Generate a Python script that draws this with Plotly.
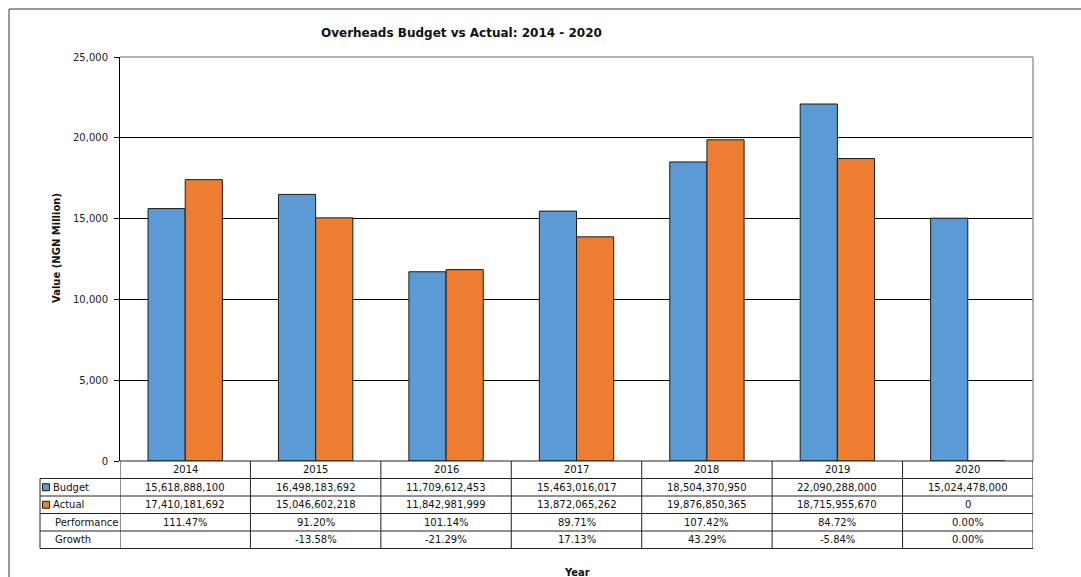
import plotly.graph_objects as go

years = ["2014", "2015", "2016", "2017", "2018", "2019", "2020"]
budget = [15618888100, 16498183692, 11709612453, 15463016017, 18504370950, 22090288000, 15024478000]
actual = [17410181692, 15046602218, 11842981999, 13872065262, 19876850365, 18715955670, 0]
performance = ["111.47%", "91.20%", "101.14%", "89.71%", "107.42%", "84.72%", "0.00%"]
growth = ["", "-13.58%", "-21.29%", "17.13%", "43.29%", "-5.84%", "0.00%"]
row_labels = ["Budget", "Actual", "Performance", "Growth"]

BLUE = "#5B9BD5"
ORANGE = "#ED7D31"
FONT = "DejaVu Sans"

W, H = 1081, 577
L, R, T, B = 120, 1033, 57, 461


def px(x):
    return (x - L) / (R - L)


def py(y):
    return (B - y) / (B - T)


fig = go.Figure()
fig.add_trace(go.Bar(x=years, y=[v / 1e6 for v in budget], name="Budget",
                     marker=dict(color=BLUE, line=dict(color="#1a1a1a", width=1))))
fig.add_trace(go.Bar(x=years, y=[v / 1e6 for v in actual], name="Actual",
                     marker=dict(color=ORANGE, line=dict(color="#1a1a1a", width=1))))
# invisible trace so the inside-tick overlay axis is drawn
fig.add_trace(go.Scatter(x=[years[0]], y=[0], yaxis="y2", mode="markers",
                         marker=dict(opacity=0), hoverinfo="skip", showlegend=False))

shapes = []
annotations = []
LC = "#222222"


def hline(x0, x1, y, color=LC, xref="paper", width=1):
    shapes.append(dict(type="line", xref=xref, yref="paper", x0=x0, x1=x1,
                       y0=py(y), y1=py(y), line=dict(color=color, width=width)))


def vline(x, y0, y1, color=LC, xref="paper", width=1):
    shapes.append(dict(type="line", xref=xref, yref="paper", x0=x, x1=x,
                       y0=py(y0), y1=py(y1), line=dict(color=color, width=width)))


# plot-area top/right border (gray)
hline(px(L), px(R), T, color="#9a9a9a", width=1.5)
vline(px(R), T, B, color="#9a9a9a", width=1.5)

# outer chart frame (top + left visible)
hline(px(9), px(1081), 9, color="#333333")
vline(px(9), 9, 577, color="#333333")

# table geometry
rows = [461, 478.5, 496, 513.5, 531, 548.5]
TL = 40
n = len(years)
shapes.append(dict(type="line", xref="x", yref="paper", x0=-0.5, x1=n - 0.5,
                   y0=py(rows[0]), y1=py(rows[0]), line=dict(color=LC, width=1)))
for y in rows[1:]:
    hline(px(TL), px(R), y)
vline(px(TL), rows[1], rows[-1])
for i in range(n + 1):
    shapes.append(dict(type="line", xref="x", yref="paper", x0=i - 0.5, x1=i - 0.5,
                       y0=py(rows[0]), y1=py(rows[-1]), line=dict(color=LC, width=1)))

# legend keys
for k, col in enumerate([BLUE, ORANGE]):
    yc = (rows[k + 1] + rows[k + 2]) / 2
    shapes.append(dict(type="rect", xref="paper", yref="paper",
                       x0=px(42.5), x1=px(49.5), y0=py(yc + 3.5), y1=py(yc - 3.5),
                       fillcolor=col, line=dict(color="#1a1a1a", width=1)))

TF = dict(family=FONT, size=10, color="#111111")

for i, yr in enumerate(years):
    annotations.append(dict(x=i, y=py((rows[0] + rows[1]) / 2), xref="x", yref="paper",
                            text=yr, showarrow=False, font=TF, xanchor="center", yanchor="middle"))

table_rows = [
    [f"{v:,}" for v in budget],
    [f"{v:,}" for v in actual],
    performance,
    growth,
]
for r, vals in enumerate(table_rows):
    yc = (rows[r + 1] + rows[r + 2]) / 2
    xlab = 51 if r < 2 else 53
    annotations.append(dict(x=px(xlab), y=py(yc), xref="paper", yref="paper",
                            text=row_labels[r], showarrow=False, font=TF,
                            xanchor="left", yanchor="middle"))
    for i, v in enumerate(vals):
        if v == "":
            continue
        annotations.append(dict(x=i, y=py(yc), xref="x", yref="paper", text=v,
                                showarrow=False, font=TF, xanchor="center", yanchor="middle"))

annotations.append(dict(x=px(461), y=py(33), xref="paper", yref="paper",
                        text="<b>Overheads Budget vs Actual: 2014 - 2020</b>", showarrow=False,
                        font=dict(family=FONT, size=12, color="#111111"),
                        xanchor="center", yanchor="middle"))
annotations.append(dict(x=px(56), y=py(248), xref="paper", yref="paper",
                        text="<b>Value (NGN Million)</b>", showarrow=False, textangle=-90,
                        font=dict(family=FONT, size=10, color="#111111"),
                        xanchor="center", yanchor="middle"))
annotations.append(dict(x=px(577), y=py(572), xref="paper", yref="paper",
                        text="<b>Year</b>", showarrow=False,
                        font=dict(family=FONT, size=10, color="#111111"),
                        xanchor="center", yanchor="middle"))

fig.update_layout(
    width=W, height=H,
    margin=dict(l=L, r=W - R, t=T, b=H - B, pad=0),
    paper_bgcolor="white", plot_bgcolor="white",
    barmode="group", bargap=0.43, bargroupgap=0,
    showlegend=False,
    font=dict(family=FONT, size=10, color="#111111"),
    shapes=shapes, annotations=annotations,
    xaxis=dict(type="category", range=[-0.5, n - 0.5], showticklabels=False,
               showgrid=False, zeroline=False, showline=False, ticks=""),
    yaxis=dict(range=[0, 25000], dtick=5000, tickformat=",", showgrid=True,
               gridcolor="#000000", gridwidth=1, zeroline=False,
               showline=True, linecolor="#000000", linewidth=1,
               ticks="outside", ticklen=5, tickcolor="#000000",
               ticklabelstandoff=4,
               tickfont=dict(family=FONT, size=10, color="#222222")),
    yaxis2=dict(overlaying="y", side="left", anchor="x", range=[0, 25000], dtick=5000,
                showgrid=False, zeroline=False, showline=False, showticklabels=False,
                ticks="inside", ticklen=4, tickcolor="#000000"),
)

fig.write_html("out.html")
